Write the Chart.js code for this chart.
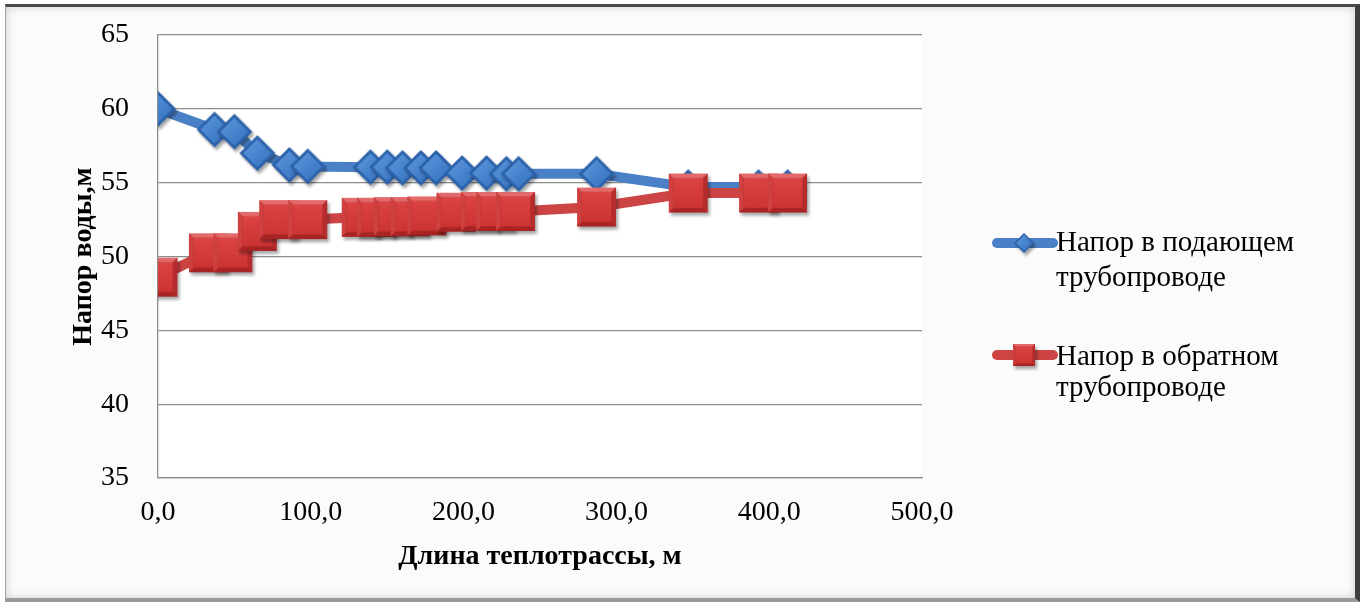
<!DOCTYPE html>
<html>
<head>
<meta charset="utf-8">
<script src="https://cdn.jsdelivr.net/npm/chart.js@4/dist/chart.umd.min.js"></script>
<style>
  html, body { margin: 0; padding: 0; background: #ffffff; }
  #wrap { position: relative; width: 1367px; height: 606px; overflow: hidden; }
  #frame {
    position: absolute; left: 5px; top: 4px; width: 1349px; height: 591px;
    background: #fbfbfb;
    border-top: 3px solid #4a4a4a; border-right: 5px solid #3e3e3e;
    border-bottom: 4px solid #9a9a9a; border-left: 1px solid #a0a0a0;
    box-shadow: inset 0 0 10px rgba(0,0,0,0.18);
  }
  #chart { position: absolute; left: 0; top: 0; }
</style>
</head>
<body>
<div id="wrap">
  <div id="frame"></div>
  <canvas id="chart" width="1367" height="606"></canvas>
</div>
<script>
'use strict';
(function () {
    // distances along the heating main, m
    var distSupply = [0, 37, 50, 65, 86, 98, 139, 150, 160, 172, 182, 199, 215, 228, 236, 287, 347, 393, 412];
    var headSupply = [60.0, 58.6, 58.45, 57.0, 56.2, 56.1, 56.05, 56.05, 56.0, 56.0, 56.0, 55.65, 55.65, 55.6, 55.6, 55.6, 54.7, 54.7, 54.7];
    var distReturn = [0, 33, 49, 65, 79, 98, 133, 143, 154, 165, 176, 195, 211, 221, 234, 287, 347, 393, 412];
    var headReturn = [48.6, 50.25, 50.25, 51.7, 52.5, 52.5, 52.65, 52.65, 52.7, 52.7, 52.75, 53.0, 53.05, 53.05, 53.05, 53.35, 54.3, 54.3, 54.3];
    var seriesNames = [['Напор в подающем', 'трубопроводе'], ['Напор в обратном', 'трубопроводе']];
    var xTicks = [0, 100, 200, 300, 400, 500];
    var yTicks = [35, 40, 45, 50, 55, 60, 65];

    var serif = "'Liberation Serif', 'Times New Roman', serif";

    function toPoints(xs, ys) {
        var pts = [];
        for (let i = 0; i < xs.length; i++) {
            pts.push({ x: xs[i], y: ys[i] });
        }
        return pts;
    }

    function makeDiamond(size) {
        var pad = 6, s = size + pad * 2;
        var c = document.createElement('canvas');
        c.width = s; c.height = s;
        var g = c.getContext('2d'), m = s / 2, h = size / 2;
        g.shadowColor = 'rgba(0,0,0,0.35)';
        g.shadowOffsetX = 2; g.shadowOffsetY = 3; g.shadowBlur = 3;
        g.beginPath();
        g.moveTo(m, m - h); g.lineTo(m + h, m); g.lineTo(m, m + h); g.lineTo(m - h, m);
        g.closePath();
        g.fillStyle = '#2c62aa';
        g.fill();
        g.shadowColor = 'transparent';
        var k = h * 0.78;
        var grad = g.createLinearGradient(m - k, m - k, m + k, m + k);
        grad.addColorStop(0, '#5d98de');
        grad.addColorStop(1, '#3470bd');
        g.beginPath();
        g.moveTo(m, m - k); g.lineTo(m + k, m); g.lineTo(m, m + k); g.lineTo(m - k, m);
        g.closePath();
        g.fillStyle = grad;
        g.fill();
        return c;
    }

    function makeSquare(size) {
        var pad = 6, s = size + pad * 2;
        var c = document.createElement('canvas');
        c.width = s; c.height = s;
        var g = c.getContext('2d'), x0 = pad, y0 = pad, b = size * 0.12;
        g.shadowColor = 'rgba(0,0,0,0.35)';
        g.shadowOffsetX = 2; g.shadowOffsetY = 3; g.shadowBlur = 3;
        g.fillStyle = '#a82424';
        g.fillRect(x0, y0, size, size);
        g.shadowColor = 'transparent';
        // bevel facets
        g.fillStyle = '#e26a6a';
        g.beginPath(); g.moveTo(x0, y0); g.lineTo(x0 + size, y0); g.lineTo(x0 + size - b, y0 + b); g.lineTo(x0 + b, y0 + b); g.closePath(); g.fill();
        g.fillStyle = '#cf4040';
        g.beginPath(); g.moveTo(x0, y0); g.lineTo(x0 + b, y0 + b); g.lineTo(x0 + b, y0 + size - b); g.lineTo(x0, y0 + size); g.closePath(); g.fill();
        g.fillStyle = '#b52c2c';
        g.beginPath(); g.moveTo(x0 + size, y0); g.lineTo(x0 + size, y0 + size); g.lineTo(x0 + size - b, y0 + size - b); g.lineTo(x0 + size - b, y0 + b); g.closePath(); g.fill();
        var grad = g.createLinearGradient(0, y0 + b, 0, y0 + size - b);
        grad.addColorStop(0, '#dc4343');
        grad.addColorStop(1, '#cc3434');
        g.fillStyle = grad;
        g.fillRect(x0 + b, y0 + b, size - 2 * b, size - 2 * b);
        return c;
    }

    var diamond = makeDiamond(36), square = makeSquare(39);
    var diamondSmall = makeDiamond(20), squareSmall = makeSquare(22);

    var plotBg = {
        id: 'plotBg',
        beforeDraw: function (chart) {
            var a = chart.chartArea, ctx = chart.ctx;
            ctx.save();
            ctx.fillStyle = '#ffffff';
            ctx.fillRect(a.left, a.top, a.right - a.left, a.bottom - a.top);
            ctx.restore();
        }
    };

    var sideLegend = {
        id: 'sideLegend',
        afterDraw: function (chart) {
            var ctx = chart.ctx;
            var items = [
                { color: '#4a80c6', img: diamondSmall, y: 243, base: [251, 286] },
                { color: '#cc4444', img: squareSmall, y: 355, base: [365, 396] }
            ];
            ctx.save();
            for (let i = 0; i < items.length; i++) {
                var it = items[i];
                ctx.strokeStyle = it.color;
                ctx.lineWidth = 10;
                ctx.lineCap = 'round';
                ctx.beginPath();
                ctx.moveTo(997, it.y);
                ctx.lineTo(1053, it.y);
                ctx.stroke();
                ctx.drawImage(it.img, 1024 - it.img.width / 2, it.y - it.img.height / 2);
                ctx.fillStyle = '#000';
                ctx.font = '29px ' + serif;
                ctx.textBaseline = 'alphabetic';
                ctx.fillText(seriesNames[i][0], 1056, it.base[0]);
                ctx.fillText(seriesNames[i][1], 1056, it.base[1]);
            }
            ctx.restore();
        }
    };

    var ctx = document.getElementById('chart').getContext('2d');
    var myChart = new Chart(ctx, {
        type: 'scatter',
        data: {
            datasets: [{
                label: seriesNames[0].join(' '),
                data: toPoints(distSupply, headSupply),
                showLine: true,
                borderColor: '#4a80c6',
                borderWidth: 10,
                pointStyle: diamond,
                order: 2
            }, {
                label: seriesNames[1].join(' '),
                data: toPoints(distReturn, headReturn),
                showLine: true,
                borderColor: '#cc4444',
                borderWidth: 10,
                pointStyle: square,
                order: 1
            }]
        },
        plugins: [plotBg, sideLegend],
        options: {
            responsive: false,
            animation: false,
            layout: { padding: { left: 0, top: 35, right: 445, bottom: 0 } },
            plugins: { legend: { display: false }, tooltip: { enabled: false } },
            scales: {
                x: {
                    type: 'linear',
                    min: 0, max: 500,
                    afterFit: function (scale) {
                        scale.height = 128;
                        scale.paddingLeft = 0; scale.paddingRight = 0;
                    },
                    afterBuildTicks: function (scale) {
                        scale.ticks = xTicks.map(function (v) { return { value: v }; });
                    },
                    grid: { display: false },
                    border: { display: true, color: '#8c8c8c', width: 1.3 },
                    ticks: {
                        padding: 10,
                        color: '#000',
                        font: { family: serif, size: 28 },
                        callback: function (v) { return v.toFixed(1).replace('.', ','); }
                    },
                    title: {
                        display: true,
                        text: 'Длина теплотрассы, м',
                        color: '#000',
                        font: { family: serif, size: 28, weight: 'bold' },
                        padding: { top: 0, bottom: 32 }
                    }
                },
                y: {
                    min: 35, max: 65,
                    afterFit: function (scale) {
                        scale.width = 158;
                        scale.paddingTop = 0; scale.paddingBottom = 0;
                    },
                    afterBuildTicks: function (scale) {
                        scale.ticks = yTicks.map(function (v) { return { value: v }; });
                    },
                    grid: { color: '#8c8c8c', lineWidth: 1.3, drawTicks: false },
                    border: { display: true, color: '#8c8c8c', width: 1.3 },
                    ticks: {
                        padding: 29,
                        color: '#000',
                        font: { family: serif, size: 28 }
                    },
                    title: {
                        display: true,
                        text: 'Напор воды,м',
                        color: '#000',
                        font: { family: serif, size: 28, weight: 'bold' },
                        padding: { top: 67, bottom: 0 }
                    }
                }
            }
        }
    });
}) ();
</script>
</body>
</html>
